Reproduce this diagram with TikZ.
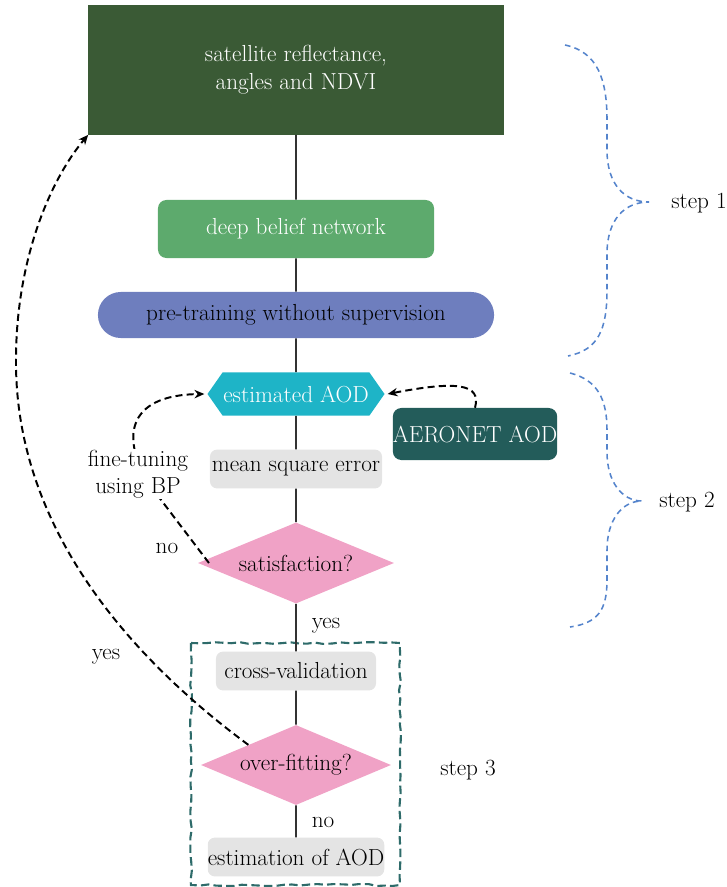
\documentclass[tikz,border=0pt]{standalone}
\usepackage{fontspec}
\setmainfont{Latin Modern Roman}
\usepackage{tikz}
\usetikzlibrary{shapes.geometric,shapes.symbols,arrows.meta,decorations.pathmorphing}

\definecolor{inputgreen}{HTML}{3A5A35}
\definecolor{dbngreen}{HTML}{5DAA6D}
\definecolor{pretrainblue}{HTML}{6E7EBE}
\definecolor{aodcyan}{HTML}{1EB4C7}
\definecolor{aeroteal}{HTML}{235C5A}
\definecolor{softgrey}{HTML}{E4E4E4}
\definecolor{checkpink}{HTML}{F0A2C6}
\definecolor{framegreen}{HTML}{2E6B6A}
\definecolor{braceblue}{HTML}{5584CC}

\begin{document}
\begin{tikzpicture}[x=0.025cm,y=-0.025cm,
  every node/.style={font=\fontsize{16.5}{19}\selectfont, inner sep=0pt, align=center},
  greybox/.style={fill=softgrey, rounded corners=5pt, minimum height=0.97cm},
  decision/.style={diamond, fill=checkpink, aspect=2.6},
  flow/.style={line width=1.4pt, draw=black!80},
  feedback/.style={line width=1.4pt, dash pattern=on 5pt off 3pt, -{Stealth[length=7pt,width=6pt]}},
  stepbrace/.style={line width=1.1pt, draw=braceblue, dash pattern=on 4pt off 3pt},
  steplabel/.style={font=\fontsize{16.5}{19}\selectfont}]
\useasboundingbox (0,0) rectangle (727,887);

% blocks
\node[fill=inputgreen, text=white, minimum width=10.375cm, minimum height=3.225cm,
  font=\fontsize{16.5}{20}\selectfont] (input) at (296,70) {satellite reflectance,\\angles and NDVI};
\node[fill=dbngreen, text=white, rounded corners=6pt, minimum width=6.9cm, minimum height=1.45cm] (dbn) at (296,229) {deep belief network};
\node[fill=pretrainblue, rounded corners=0.57cm, minimum width=9.9cm, minimum height=1.15cm] (pre) at (296,315) {pre-training without supervision};
\node[signal, signal to=west and east, signal pointer angle=110, fill=aodcyan, text=white,
  minimum width=4.425cm, minimum height=1.075cm] (est) at (296,394) {estimated AOD};
\node[fill=aeroteal, text=white, rounded corners=6pt, minimum width=3.95cm, minimum height=1.3cm] (aer) at (475,434) {AERONET AOD};
\node[greybox, minimum width=4.3cm] (mse) at (296,469) {mean square error};
\node[decision, minimum width=4.9cm, minimum height=2.025cm] (sat) at (296,563) {satisfaction?};
\node[greybox, minimum width=4cm] (cv) at (296,671) {cross-validation};
\node[decision, minimum width=4.75cm, minimum height=2.0cm] (ovf) at (296,765) {over-fitting?};
\node[greybox, minimum width=4.2cm] (final) at (296,857) {estimation of AOD};

% step 3 frame
\draw[framegreen, line width=1.5pt, dash pattern=on 6pt off 3pt, decorate,
  decoration={random steps, segment length=6pt, amplitude=0.7pt}] (191,643) rectangle (400,885);

% main line
\draw[flow] (input) -- (dbn) -- (pre) -- (est) -- (mse) -- (sat) -- (cv) -- (ovf) -- (final);

% loops
\draw[feedback] (aer.north) .. controls (482,383) and (455,381) .. ([xshift=2pt]est.east);
\draw[feedback] ([xshift=8pt]sat.west) -- (152,488) .. controls (120,440) and (125,395) .. ([xshift=-2pt]est.west);
\draw[feedback] (ovf.north west) .. controls (120,650) and (15,520) .. (16,360)
  .. controls (16,260) and (50,180) .. (input.south west);

\node[fill=white, inner sep=1pt] (tune) at (138,474) {fine-tuning\\using BP};
\node (no1) at (167,548) {no};
\node (yes1) at (326,626) {yes};
\node (yes2) at (106,657) {yes};
\node (no2) at (323,822) {no};

% steps
\draw[stepbrace] (565,45) .. controls (598,52) and (607,80) .. (607,120) -- (607,150)
  .. controls (607,185) and (625,202) .. (649,202) .. controls (625,202) and (607,219) .. (607,254)
  -- (607,290) .. controls (607,330) and (598,350) .. (568,356);
\draw[stepbrace] (570,373) .. controls (598,380) and (607,400) .. (607,430) -- (607,452)
  .. controls (607,482) and (622,501) .. (642,501) .. controls (622,501) and (607,520) .. (607,550)
  -- (607,580) .. controls (607,610) and (598,623) .. (570,627);
\node[steplabel] (s1) at (699,203) {step 1};
\node[steplabel] (s2) at (687,502) {step 2};
\node[steplabel] (s3) at (468,770) {step 3};
\end{tikzpicture}
\end{document}
